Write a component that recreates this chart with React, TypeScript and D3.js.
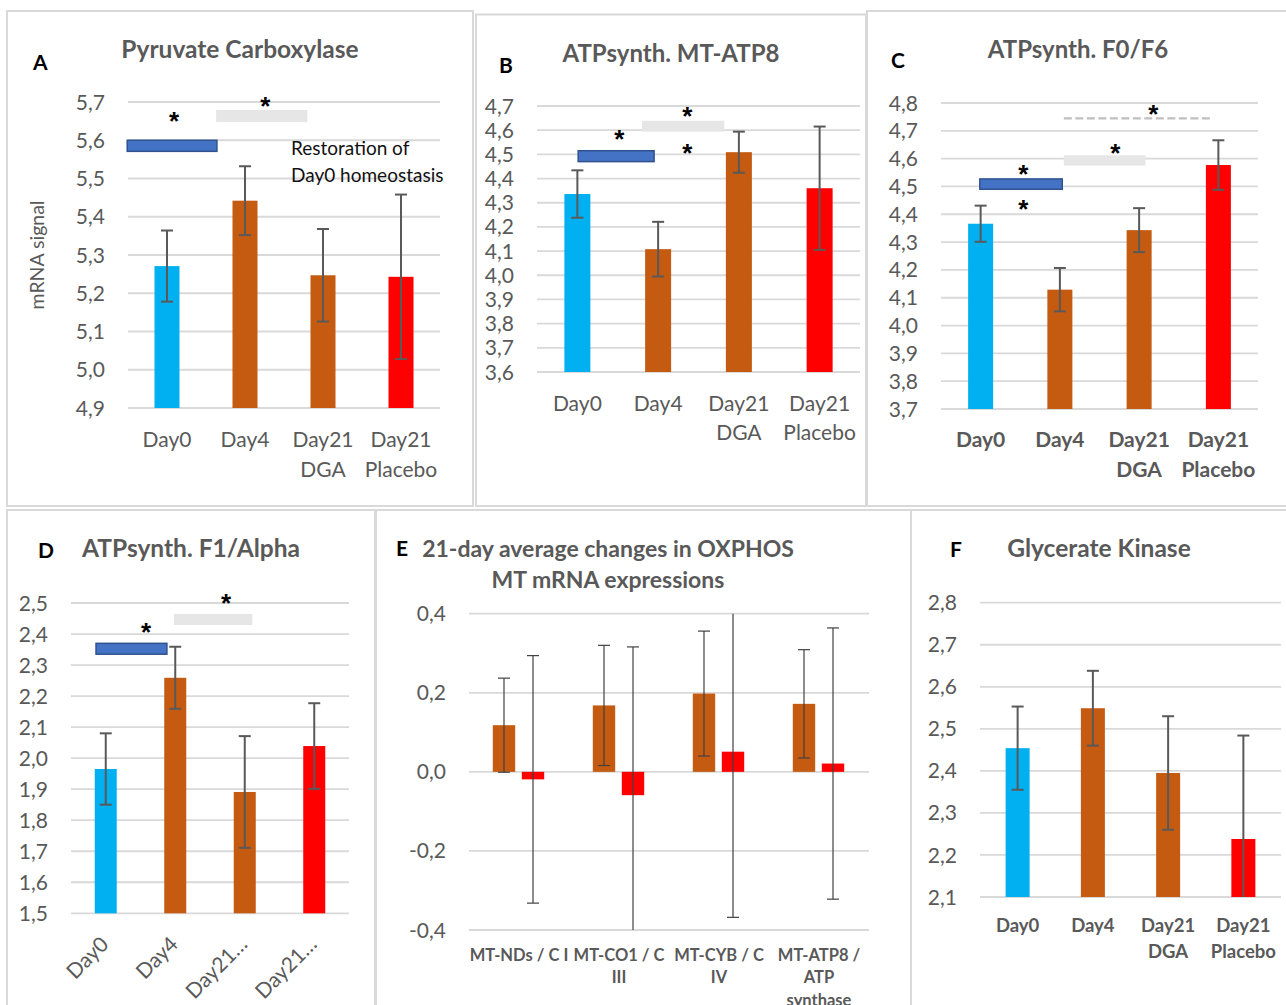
import React from 'react';
import * as d3 from 'd3';

const FONT = 'Lato, "Noto Sans", sans-serif';
const GREY = '#595959';
const GRID = '#D9D9D9';

// categories
const dayCategories = ['Day0', 'Day4', 'Day21 DGA', 'Day21 Placebo'];
const dayLabelLines = [['Day0'], ['Day4'], ['Day21', 'DGA'], ['Day21', 'Placebo']];
const dayLabelsShort = ['Day0', 'Day4', 'Day21…', 'Day21…'];
const dayColors = ['#00B0F0', '#C55A11', '#C55A11', '#FF0000'];

// A - Pyruvate Carboxylase
const pyruvateMeans = [5.271, 5.442, 5.247, 5.243];
const pyruvateErrors = [0.093, 0.09, 0.121, 0.215];
const pyruvateTicks = [4.9, 5.0, 5.1, 5.2, 5.3, 5.4, 5.5, 5.6, 5.7];

// B - ATPsynth. MT-ATP8
const atp8Means = [4.336, 4.108, 4.509, 4.36];
const atp8Errors = [0.098, 0.113, 0.085, 0.255];
const atp8Ticks = [3.6, 3.7, 3.8, 3.9, 4.0, 4.1, 4.2, 4.3, 4.4, 4.5, 4.6, 4.7];

// C - ATPsynth. F0/F6
const f0f6Means = [4.366, 4.129, 4.343, 4.577];
const f0f6Errors = [0.065, 0.078, 0.079, 0.089];
const f0f6Ticks = [3.7, 3.8, 3.9, 4.0, 4.1, 4.2, 4.3, 4.4, 4.5, 4.6, 4.7, 4.8];

// D - ATPsynth. F1/Alpha
const f1Means = [1.965, 2.259, 1.891, 2.039];
const f1Errors = [0.115, 0.1, 0.18, 0.138];
const f1Ticks = [1.5, 1.6, 1.7, 1.8, 1.9, 2.0, 2.1, 2.2, 2.3, 2.4, 2.5];

// E - 21-day average changes
const oxphosGroups = ['MT-NDs / C I', 'MT-CO1 / C III', 'MT-CYB / C IV', 'MT-ATP8 / ATP synthase'];
const oxphosLabelLines = [['MT-NDs / C I'], ['MT-CO1 / C', 'III'], ['MT-CYB / C', 'IV'], ['MT-ATP8 /', 'ATP', 'synthase']];
const oxphosSeries = ['DGA', 'Placebo'];
const oxphosColors = ['#C55A11', '#FF0000'];
const oxphosDga = [0.118, 0.168, 0.198, 0.172];
const oxphosDgaErrors = [0.119, 0.152, 0.158, 0.137];
const oxphosPlacebo = [-0.019, -0.059, 0.051, 0.021];
const oxphosPlaceboErrors = [0.313, 0.375, 0.419, 0.343];
const oxphosTicks = [-0.4, -0.2, 0.0, 0.2, 0.4];

// F - Glycerate Kinase
const glycerateMeans = [2.454, 2.549, 2.395, 2.238];
const glycerateErrors = [0.099, 0.089, 0.135, 0.246];
const glycerateTicks = [2.1, 2.2, 2.3, 2.4, 2.5, 2.6, 2.7, 2.8];

// significance marks: x in category index units, y in data units
const pyruvateMarks = [
  { kind: 'blue', from: -0.51, to: 0.64, top: 5.6, bottom: 5.571 },
  { kind: 'grey', from: 0.63, to: 1.8, top: 5.679, bottom: 5.648 },
];
const pyruvateStars = [[0.09, 5.666], [1.26, 5.705]];
const atp8Marks = [
  { kind: 'blue', from: 0.01, to: 0.95, top: 4.515, bottom: 4.47 },
  { kind: 'grey', from: 0.8, to: 1.82, top: 4.639, bottom: 4.594 },
];
const atp8Stars = [[0.52, 4.588], [1.36, 4.683], [1.36, 4.531]];
const f0f6Marks = [
  { kind: 'blue', from: -0.01, to: 1.03, top: 4.527, bottom: 4.49 },
  { kind: 'grey', from: 1.05, to: 2.08, top: 4.612, bottom: 4.575 },
  { kind: 'dash', from: 1.05, to: 2.91, top: 4.745 },
];
const f0f6Stars = [[0.54, 4.567], [0.54, 4.441], [1.7, 4.64], [2.18, 4.782]];
const f1Marks = [
  { kind: 'blue', from: -0.14, to: 0.88, top: 2.37, bottom: 2.335 },
  { kind: 'grey', from: 0.98, to: 2.11, top: 2.465, bottom: 2.429 },
];
const f1Stars = [[0.58, 2.424], [1.73, 2.518]];

const locale = d3.formatLocale({ decimal: ',', thousands: '.', grouping: [3], currency: ['', ''], minus: '-' });
const fmt = locale.format('.1f');

const panels = [
  {
    letter: 'A', letterX: 33, letterY: 70, title: 'Pyruvate Carboxylase', titleX: 240, titleY: 58, titleSize: 24.5,
    frame: [7, 11, 466, 495], xRange: [128, 440], yRange: [408, 102],
    ticks: pyruvateTicks, means: pyruvateMeans, errors: pyruvateErrors, barWidth: 25,
    labelY: 446.7, labelStep: 30, labelSize: 21, labelBold: false,
    marks: pyruvateMarks, stars: pyruvateStars, yTitle: 'mRNA signal',
  },
  {
    letter: 'B', letterX: 499, letterY: 73, title: 'ATPsynth. MT-ATP8', titleX: 671, titleY: 61.5, titleSize: 24,
    frame: [476, 14.5, 390, 491.5], xRange: [537, 860], yRange: [372, 106],
    ticks: atp8Ticks, means: atp8Means, errors: atp8Errors, barWidth: 26,
    labelY: 410.7, labelStep: 29.5, labelSize: 21, labelBold: false,
    marks: atp8Marks, stars: atp8Stars,
  },
  {
    letter: 'C', letterX: 891, letterY: 68, title: 'ATPsynth. F0/F6', titleX: 1078, titleY: 57.5, titleSize: 24,
    frame: [867, 11, 440, 495], xRange: [941, 1258], yRange: [409, 103],
    ticks: f0f6Ticks, means: f0f6Means, errors: f0f6Errors, barWidth: 25,
    labelY: 447, labelStep: 30, labelSize: 21, labelBold: true,
    marks: f0f6Marks, stars: f0f6Stars,
  },
  {
    letter: 'D', letterX: 38, letterY: 558, title: 'ATPsynth. F1/Alpha', titleX: 191, titleY: 556.7, titleSize: 24.5,
    frame: [7, 510, 368, 510], xRange: [71, 349], yRange: [913.3, 603],
    ticks: f1Ticks, means: f1Means, errors: f1Errors, barWidth: 22,
    rotated: dayLabelsShort, labelY: 945.6, labelSize: 21, labelBold: false,
    marks: f1Marks, stars: f1Stars,
  },
  {
    letter: 'F', letterX: 950, letterY: 556.7, title: 'Glycerate Kinase', titleX: 1099, titleY: 556.7, titleSize: 24.5,
    frame: [911, 510, 400, 510], xRange: [980, 1281], yRange: [897, 602.7],
    ticks: glycerateTicks, means: glycerateMeans, errors: glycerateErrors, barWidth: 24,
    labelY: 931.7, labelStep: 26, labelSize: 18.5, labelBold: true,
    marks: [], stars: [],
  },
];

function ErrorBar({ x, y, mean, err, cap, stroke, width }) {
  const [lo, hi] = y.domain();
  const top = Math.min(mean + err, hi);
  const bot = Math.max(mean - err, lo);
  return (
    <g stroke={stroke} strokeWidth={width}>
      <line x1={x} x2={x} y1={y(top)} y2={y(bot)} />
      {mean + err <= hi && <line x1={x - cap} x2={x + cap} y1={y(top)} y2={y(top)} />}
      {mean - err >= lo && <line x1={x - cap} x2={x + cap} y1={y(bot)} y2={y(bot)} />}
    </g>
  );
}

function YGrid({ y, ticks, x0, x1 }) {
  return (
    <g>
      {ticks.map(t => (
        <g key={t}>
          <line x1={x0} x2={x1} y1={y(t)} y2={y(t)} stroke={GRID} strokeWidth={1.8} />
          <text x={x0 - 23} y={y(t)} dy="0.36em" textAnchor="end" fontSize={21} fill={GREY}>
            {fmt(t)}
          </text>
        </g>
      ))}
    </g>
  );
}

function Star({ x, y }) {
  return (
    <text x={x} y={y} dy="0.57em" textAnchor="middle" fontSize={26} fontWeight="bold"
      fontFamily='"Liberation Sans", Arial, sans-serif' fill="#000">*</text>
  );
}

function BarPanel({ p }) {
  const x = d3.scalePoint().domain(dayCategories).range(p.xRange).padding(0.5);
  const y = d3.scaleLinear().domain(d3.extent(p.ticks)).range(p.yRange);
  const idx = d3.scaleLinear().domain([0, dayCategories.length - 1])
    .range([x(dayCategories[0]), x(dayCategories[dayCategories.length - 1])]);
  const base = y.domain()[0];
  const [fx, fy, fw, fh] = p.frame;

  return (
    <g>
      <rect x={fx} y={fy} width={fw} height={fh} fill="white" stroke={GRID} strokeWidth={2} />
      <text x={p.letterX} y={p.letterY} fontSize={21} fontWeight="bold" fill="#000">{p.letter}</text>
      <text x={p.titleX} y={p.titleY} textAnchor="middle" fontSize={p.titleSize} fontWeight="bold" fill={GREY}>{p.title}</text>
      <YGrid y={y} ticks={p.ticks} x0={p.xRange[0]} x1={p.xRange[1]} />
      {p.yTitle && (
        <text transform={`translate(44, ${(p.yRange[0] + p.yRange[1]) / 2}) rotate(-90)`} textAnchor="middle"
          fontSize={19.5} fill={GREY}>{p.yTitle}</text>
      )}
      {dayCategories.map((c, i) => (
        <rect key={c} x={x(c) - p.barWidth / 2} width={p.barWidth} y={y(p.means[i])}
          height={y(base) - y(p.means[i])} fill={dayColors[i]} />
      ))}
      {dayCategories.map((c, i) => (
        <ErrorBar key={c} x={x(c)} y={y} mean={p.means[i]} err={p.errors[i]} cap={6} stroke={GREY} width={2} />
      ))}
      {p.rotated
        ? dayCategories.map((c, i) => (
          <text key={c} transform={`translate(${x(c) + 4}, ${p.labelY}) rotate(-45)`} textAnchor="end"
            fontSize={p.labelSize} fill={GREY}>{p.rotated[i]}</text>
        ))
        : dayCategories.map((c, i) => (
          <text key={c} x={x(c)} y={p.labelY} textAnchor="middle" fontSize={p.labelSize}
            fontWeight={p.labelBold ? 'bold' : 'normal'} fill={GREY}>
            {dayLabelLines[i].map((l, j) => (
              <tspan key={j} x={x(c)} y={p.labelY + j * p.labelStep}>{l}</tspan>
            ))}
          </text>
        ))}
      {p.marks.map((m, i) => m.kind === 'dash' ? (
        <line key={i} x1={idx(m.from)} x2={idx(m.to)} y1={y(m.top)} y2={y(m.top)}
          stroke="#BFBFBF" strokeWidth={2.2} strokeDasharray="8,3.5" />
      ) : (
        <rect key={i} x={idx(m.from)} width={idx(m.to) - idx(m.from)} y={y(m.top)}
          height={y(m.bottom) - y(m.top)}
          fill={m.kind === 'blue' ? '#4472C4' : '#E7E6E6'}
          stroke={m.kind === 'blue' ? '#2F528F' : 'none'} strokeWidth={1.5} />
      ))}
      {p.stars.map(([sx, sy], i) => <Star key={i} x={idx(sx)} y={y(sy)} />)}
      {p.letter === 'A' && (
        <text fontSize={19} fill="#111">
          <tspan x={idx(1.59)} y={y(5.561)}>Restoration of</tspan>
          <tspan x={idx(1.59)} y={y(5.492)}>Day0 homeostasis</tspan>
        </text>
      )}
    </g>
  );
}

function OxphosPanel() {
  const x0 = d3.scaleBand().domain(oxphosGroups).range([469, 869]);
  const x1 = d3.scaleBand().domain(oxphosSeries).range([0, 51.4]).paddingInner(0.228);
  const y = d3.scaleLinear().domain([-0.4, 0.4]).range([930, 613.7]);
  const values = [oxphosDga, oxphosPlacebo];
  const errors = [oxphosDgaErrors, oxphosPlaceboErrors];
  const offset = x0.bandwidth() / 2 - 26.2;

  return (
    <g>
      <rect x={376} y={510} width={535} height={510} fill="white" stroke={GRID} strokeWidth={2} />
      <text x={396} y={555.7} fontSize={21} fontWeight="bold" fill="#000">E</text>
      <text textAnchor="middle" fontSize={23} fontWeight="bold" fill={GREY}>
        <tspan x={608} y={557.3}>21-day average changes in OXPHOS</tspan>
        <tspan x={608} y={587.7}>MT mRNA expressions</tspan>
      </text>
      <YGrid y={y} ticks={oxphosTicks} x0={469} x1={869} />
      {oxphosSeries.map((s, si) => oxphosGroups.map((g, gi) => {
        const v = values[si][gi];
        return (
          <rect key={s + g} x={x0(g) + offset + x1(s)} width={x1.bandwidth()}
            y={y(Math.max(0, v))} height={Math.abs(y(v) - y(0))} fill={oxphosColors[si]} />
        );
      }))}
      {oxphosSeries.map((s, si) => oxphosGroups.map((g, gi) => (
        <ErrorBar key={s + g} x={x0(g) + offset + x1(s) + x1.bandwidth() / 2} y={y}
          mean={values[si][gi]} err={errors[si][gi]} cap={6} stroke="#404040" width={1.2} />
      )))}
      {oxphosGroups.map((g, gi) => (
        <text key={g} textAnchor="middle" fontSize={16.5} fontWeight="bold" fill={GREY}>
          {oxphosLabelLines[gi].map((l, j) => (
            <tspan key={j} x={x0(g) + x0.bandwidth() / 2} y={961 + j * 22.4}>{l}</tspan>
          ))}
        </text>
      ))}
    </g>
  );
}

export default function App() {
  return (
    <svg width={1286} height={1005} fontFamily={FONT}
      style={{ position: 'absolute', left: 0, top: 0, background: 'white' }}>
      <rect width={1286} height={1005} fill="white" />
      {panels.slice(0, 3).map(p => <BarPanel key={p.letter} p={p} />)}
      {panels.slice(3, 4).map(p => <BarPanel key={p.letter} p={p} />)}
      <OxphosPanel />
      {panels.slice(4).map(p => <BarPanel key={p.letter} p={p} />)}
    </svg>
  );
}
